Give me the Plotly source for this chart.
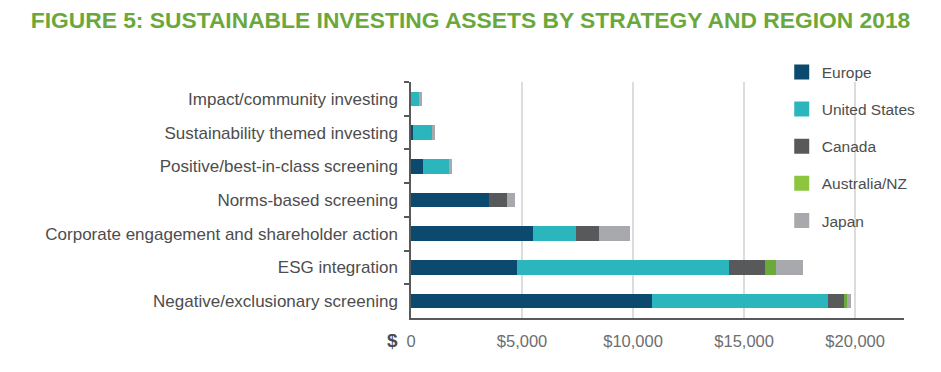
import plotly.graph_objects as go

categories = [
    "Impact/community investing",
    "Sustainability themed investing",
    "Positive/best-in-class screening",
    "Norms-based screening",
    "Corporate engagement and shareholder action",
    "ESG integration",
    "Negative/exclusionary screening",
]
regions = ["Europe", "United States", "Canada", "Australia/NZ", "Japan"]
europe = [10, 80, 560, 3500, 5480, 4760, 10860]
united_states = [370, 830, 1150, 0, 1940, 9560, 7910]
canada = [0, 0, 0, 840, 1060, 1600, 730]
australia_nz = [0, 30, 0, 0, 0, 520, 120]
japan = [100, 140, 120, 340, 1380, 1190, 210]
series = [europe, united_states, canada, australia_nz, japan]
colors = ["#0b4a6e", "#2bb5bd", "#58595b", "#6aaa3a", "#a7a9ac"]
legend_colors = ["#0b4a6e", "#2bb5bd", "#58595b", "#8cc63f", "#a7a9ac"]

tick_vals = [0, 5000, 10000, 15000, 20000]
tick_text = ["0", "$5,000", "$10,000", "$15,000", "$20,000"]

fig = go.Figure()
for name, vals, c in zip(regions, series, colors):
    fig.add_trace(go.Bar(
        y=categories, x=vals, name=name, orientation="h",
        marker=dict(color=c, line=dict(width=0)),
        showlegend=False,
    ))
for name, c in zip(regions, legend_colors):
    fig.add_trace(go.Scatter(
        x=[None], y=[None], mode="markers", name=name,
        marker=dict(symbol="square", size=15, color=c),
        legendgroup=name, showlegend=True,
    ))

fig.update_layout(
    width=941, height=372,
    barmode="stack", bargap=0.57,
    plot_bgcolor="white", paper_bgcolor="white",
    margin=dict(l=411, r=37, t=82, b=54),
    font=dict(family="Liberation Sans, Arial, sans-serif", color="#4d4d4d"),
    title=dict(
        text="<b>FIGURE 5: SUSTAINABLE INVESTING ASSETS BY STRATEGY AND REGION 2018</b>",
        x=0.5, xanchor="center", y=0.945, yanchor="middle",
        font=dict(size=22.8, color="#6aa83c", family="Liberation Sans, Arial, sans-serif"),
    ),
    showlegend=True,
    legend=dict(
        x=0.752, xanchor="left", y=1.113, yanchor="top",
        traceorder="grouped", tracegroupgap=14,
        font=dict(size=15.5, color="#4d4d4d"),
        bgcolor="rgba(0,0,0,0)",
        maxheight=1,
    ),
    xaxis=dict(
        range=[0, 22200], tickvals=tick_vals, ticktext=tick_text,
        showgrid=True, gridcolor="#dcdcdc", gridwidth=1.5,
        zeroline=False, showline=True, linecolor="#58595b", linewidth=1.5,
        ticks="", tickfont=dict(size=16.5, color="#6d6e71"),
        ticklabelstandoff=7,
    ),
    yaxis=dict(
        autorange="reversed", showgrid=False, zeroline=False,
        showline=True, linecolor="#58595b", linewidth=1.5,
        ticks="outside", ticklen=5, tickcolor="#58595b", tickwidth=1.5,
        tickson="boundaries", ticklabelstandoff=8,
        tickfont=dict(size=17, color="#4d4d4d"),
    ),
)

fig.add_shape(type="line", xref="x", yref="paper", x0=-300, x1=0, y0=0, y1=0,
              line=dict(color="#58595b", width=1.5))
fig.add_annotation(text="<b>$</b>", xref="paper", yref="paper", x=-0.038, y=-0.095,
                   xanchor="center", yanchor="middle", showarrow=False,
                   font=dict(size=19, color="#4d4d4d"))

fig.write_html("out.html", config={"displayModeBar": False},
               post_script="document.body.style.margin='0';")
